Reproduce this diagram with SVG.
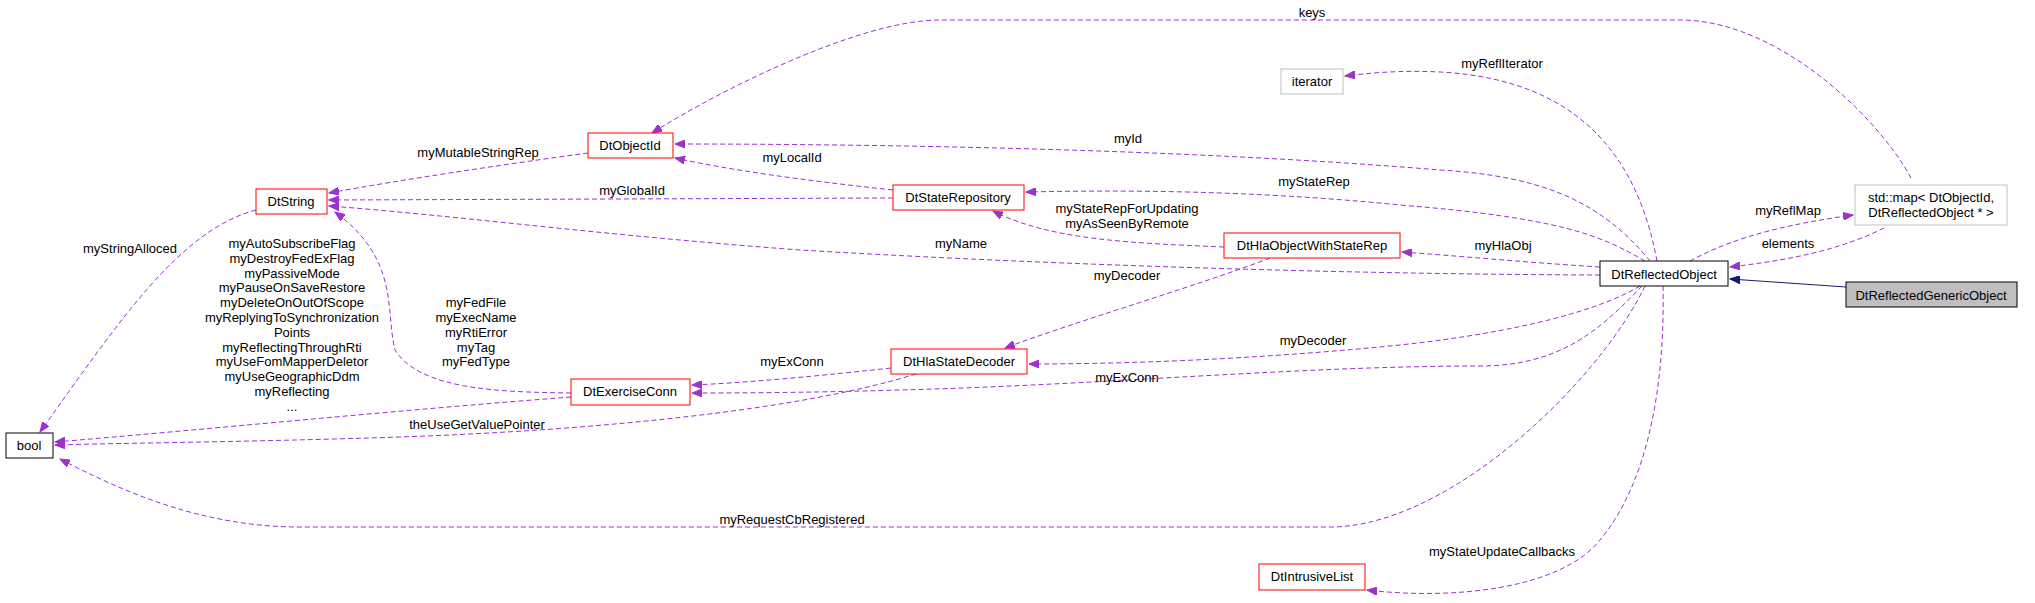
<svg xmlns="http://www.w3.org/2000/svg" width="2035" height="603" viewBox="0 0 2035 603">
<defs>
<marker id="ap" markerUnits="userSpaceOnUse" markerWidth="11" markerHeight="8" refX="10" refY="4" orient="auto"><path d="M0,0 L10,4 L0,8 z" fill="#9a32cd" stroke="#9a32cd"/></marker>
<marker id="an" markerUnits="userSpaceOnUse" markerWidth="11" markerHeight="8" refX="10" refY="4" orient="auto"><path d="M0,0 L10,4 L0,8 z" fill="#191970" stroke="#191970"/></marker>
</defs>
<style>
text{font-family:"Liberation Sans",Arial,sans-serif;font-size:13px;fill:#000;text-anchor:middle;dominant-baseline:central}
.e{fill:none;stroke:#9a32cd;stroke-width:1;stroke-dasharray:5,3;marker-end:url(#ap)}
.r{fill:#fff;stroke:#ff0000}
.g{fill:#fff;stroke:#bfbfbf}
.b{fill:#fff;stroke:#000}
</style>
<rect width="2035" height="603" fill="#fff"/>
<g id="connectors">
<path class="e" d="M1911,178 C1880,120 1780,20 1680,20 L940,20 C860,20 720,90 652,133"/>
<path class="e" d="M1657,261 C1640,170 1590,80 1440,72 C1400,70 1370,73 1345,76"/>
<path class="e" d="M1650,261 C1600,200 1540,176 1440,170 C1200,150 900,144 675,144"/>
<path class="e" d="M1645,261 C1600,235 1560,218 1400,205 C1250,190 1120,190 1026,192"/>
<path class="e" d="M1600,267 C1520,262 1460,256 1402,252"/>
<path class="e" d="M1600,275 C1300,274 1000,262 800,250 C600,235 450,215 329,206"/>
<path class="e" d="M1690,261 C1720,245 1760,228 1853,215"/>
<path class="e" d="M1884,228 C1840,250 1790,260 1730,267"/>
<path d="M1846,287 L1730,279" fill="none" stroke="#191970" marker-end="url(#an)"/>
<path class="e" d="M1640,286 C1600,310 1520,332 1400,345 C1250,360 1120,364 1029,364"/>
<path class="e" d="M1642,286 C1600,330 1560,366 1480,366 C1300,366 1100,385 900,390 C800,393 720,393 692,393"/>
<path class="e" d="M1645,286 C1600,380 1450,527 1330,527 L300,527 C200,527 120,490 60,459"/>
<path class="e" d="M1663,286 C1665,380 1650,480 1600,540 C1560,590 1450,600 1367,590"/>
<path class="e" d="M1224,247 C1130,243 1050,240 993,211"/>
<path class="e" d="M1270,258 C1200,285 1080,320 1005,348"/>
<path class="e" d="M893,190 C800,180 730,170 675,158"/>
<path class="e" d="M893,198 L329,200"/>
<path class="e" d="M588,153 C500,165 400,180 329,193"/>
<path class="e" d="M891,368 C800,378 740,383 692,385"/>
<path class="e" d="M916,374 C800,410 600,430 400,437 C250,442 120,443 55,445"/>
<path class="e" d="M571,397 C400,410 200,430 55,442"/>
<path class="e" d="M571,393 C500,392 420,390 395,350 C385,310 400,260 335,212"/>
<path class="e" d="M256,210 C180,230 120,320 40,432"/>
<text x="1312" y="12">keys</text>
<text x="1502" y="63">myReflIterator</text>
<text x="1128" y="138">myId</text>
<text x="1314" y="181">myStateRep</text>
<text x="1127" y="208">myStateRepForUpdating</text>
<text x="1127" y="223">myAsSeenByRemote</text>
<text x="1503" y="245">myHlaObj</text>
<text x="961" y="243">myName</text>
<text x="478" y="152">myMutableStringRep</text>
<text x="792" y="157">myLocalId</text>
<text x="632" y="190">myGlobalId</text>
<text x="1127" y="275">myDecoder</text>
<text x="1313" y="340">myDecoder</text>
<text x="792" y="361">myExConn</text>
<text x="1127" y="377">myExConn</text>
<text x="477" y="424">theUseGetValuePointer</text>
<text x="792" y="519">myRequestCbRegistered</text>
<text x="1502" y="551">myStateUpdateCallbacks</text>
<text x="1788" y="210">myReflMap</text>
<text x="1788" y="243">elements</text>
<text x="130" y="248">myStringAlloced</text>
<text x="292" y="243">myAutoSubscribeFlag</text>
<text x="292" y="258">myDestroyFedExFlag</text>
<text x="292" y="273">myPassiveMode</text>
<text x="292" y="287">myPauseOnSaveRestore</text>
<text x="292" y="302">myDeleteOnOutOfScope</text>
<text x="292" y="317">myReplyingToSynchronization</text>
<text x="292" y="332">Points</text>
<text x="292" y="347">myReflectingThroughRti</text>
<text x="292" y="361">myUseFomMapperDeletor</text>
<text x="292" y="376">myUseGeographicDdm</text>
<text x="292" y="391">myReflecting</text>
<text x="292" y="406">...</text>
<text x="476" y="302">myFedFile</text>
<text x="476" y="317">myExecName</text>
<text x="476" y="332">myRtiError</text>
<text x="476" y="347">myTag</text>
<text x="476" y="361">myFedType</text>
</g>
<g id="DtReflectedGenericObject"><rect x="1846" y="282" width="171" height="25" fill="#bfbfbf" stroke="#000"/><text x="1931" y="295">DtReflectedGenericObject</text></g>
<g id="DtReflectedObject"><rect class="b" x="1600" y="261" width="128" height="25"/><text x="1664" y="274">DtReflectedObject</text></g>
<g id="stdmap"><rect class="g" x="1855" y="185" width="152" height="40"/><text x="1931" y="197">std::map&lt; DtObjectId,</text><text x="1931" y="212">DtReflectedObject * &gt;</text></g>
<g id="iterator"><rect class="g" x="1281" y="69" width="62" height="25"/><text x="1312" y="81">iterator</text></g>
<g id="DtObjectId"><rect class="r" x="588" y="133" width="85" height="25"/><text x="630" y="145">DtObjectId</text></g>
<g id="DtString"><rect class="r" x="256" y="189" width="71" height="25"/><text x="291" y="201">DtString</text></g>
<g id="DtStateRepository"><rect class="r" x="893" y="185" width="131" height="25"/><text x="958" y="197">DtStateRepository</text></g>
<g id="DtHlaObjectWithStateRep"><rect class="r" x="1224" y="233" width="176" height="25"/><text x="1312" y="245">DtHlaObjectWithStateRep</text></g>
<g id="DtHlaStateDecoder"><rect class="r" x="891" y="349" width="136" height="25"/><text x="959" y="361">DtHlaStateDecoder</text></g>
<g id="DtExerciseConn"><rect class="r" x="571" y="379" width="119" height="26"/><text x="630" y="391">DtExerciseConn</text></g>
<g id="bool"><rect class="b" x="6" y="433" width="47" height="25"/><text x="29" y="445">bool</text></g>
<g id="DtIntrusiveList"><rect class="r" x="1259" y="564" width="106" height="26"/><text x="1312" y="576">DtIntrusiveList</text></g>
</svg>
